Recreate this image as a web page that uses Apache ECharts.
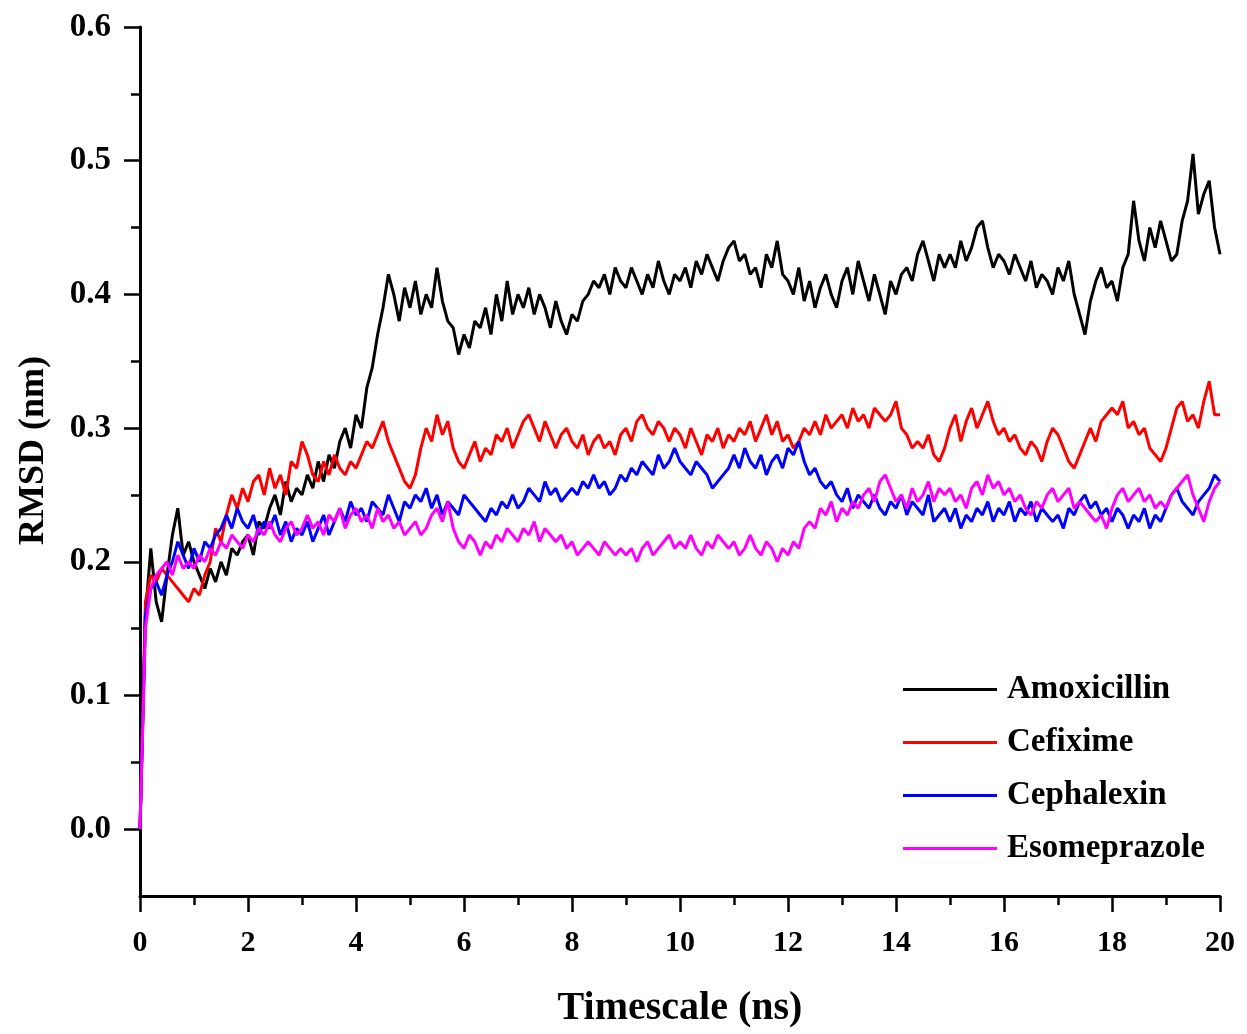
<!DOCTYPE html>
<html>
<head>
<meta charset="utf-8">
<script src="https://cdn.jsdelivr.net/npm/echarts@6/dist/echarts.min.js"></script>
<style>html,body{margin:0;padding:0;background:#fff;}#chart{width:1247px;height:1034px;}</style>
</head>
<body>
<div id="chart"></div>
<script>
// Time sampling step (ns) and tick values
const timeStep = 0.1;
const xTicks = [0, 2, 4, 6, 8, 10, 12, 14, 16, 18, 20];
const yTicks = [0.0, 0.1, 0.2, 0.3, 0.4, 0.5, 0.6];
const yMinorTicks = [0.05, 0.15, 0.25, 0.35, 0.45, 0.55];
const seriesNames = ['Amoxicillin', 'Cefixime', 'Cephalexin', 'Esomeprazole'];

// RMSD values (nm), one per 0.1 ns from 0 to 20 ns
const amoxicillin = [
0, 0.16, 0.21, 0.17, 0.155, 0.19, 0.22, 0.24, 0.205, 0.215,
0.20, 0.19, 0.18, 0.195, 0.185, 0.20, 0.19, 0.21, 0.205, 0.215,
0.22, 0.205, 0.23, 0.225, 0.24, 0.25, 0.235, 0.26, 0.245, 0.255,
0.25, 0.265, 0.255, 0.275, 0.26, 0.28, 0.27, 0.29, 0.30, 0.285,
0.31, 0.30, 0.33, 0.345, 0.37, 0.39, 0.415, 0.40, 0.38, 0.405,
0.39, 0.41, 0.385, 0.40, 0.39, 0.42, 0.395, 0.38, 0.375, 0.355,
0.37, 0.36, 0.38, 0.375, 0.39, 0.37, 0.40, 0.38, 0.41, 0.385,
0.40, 0.39, 0.405, 0.385, 0.40, 0.39, 0.375, 0.395, 0.38, 0.37,
0.385, 0.38, 0.395, 0.40, 0.41, 0.405, 0.415, 0.40, 0.42, 0.41,
0.405, 0.42, 0.41, 0.40, 0.415, 0.405, 0.425, 0.41, 0.40, 0.415,
0.41, 0.42, 0.405, 0.425, 0.415, 0.43, 0.42, 0.41, 0.425, 0.435,
0.44, 0.425, 0.43, 0.415, 0.42, 0.405, 0.43, 0.42, 0.44, 0.415,
0.41, 0.40, 0.42, 0.395, 0.41, 0.39, 0.405, 0.415, 0.40, 0.39,
0.41, 0.42, 0.40, 0.425, 0.41, 0.395, 0.415, 0.40, 0.385, 0.41,
0.40, 0.415, 0.42, 0.41, 0.43, 0.44, 0.425, 0.41, 0.43, 0.42,
0.43, 0.42, 0.44, 0.425, 0.435, 0.45, 0.455, 0.435, 0.42, 0.43,
0.425, 0.415, 0.43, 0.42, 0.41, 0.425, 0.405, 0.415, 0.41, 0.40,
0.42, 0.41, 0.425, 0.40, 0.385, 0.37, 0.395, 0.41, 0.42, 0.405,
0.41, 0.395, 0.42, 0.43, 0.47, 0.44, 0.425, 0.45, 0.435, 0.455,
0.44, 0.425, 0.43, 0.455, 0.47, 0.505, 0.46, 0.475, 0.485, 0.45,
0.43
];
const cefixime = [
0, 0.17, 0.19, 0.185, 0.195, 0.19, 0.185, 0.18, 0.175, 0.17,
0.18, 0.175, 0.19, 0.20, 0.225, 0.215, 0.235, 0.25, 0.24, 0.255,
0.245, 0.26, 0.265, 0.25, 0.27, 0.255, 0.265, 0.25, 0.275, 0.27,
0.29, 0.28, 0.265, 0.26, 0.275, 0.265, 0.28, 0.27, 0.265, 0.275,
0.27, 0.28, 0.29, 0.285, 0.295, 0.305, 0.29, 0.28, 0.27, 0.26,
0.255, 0.265, 0.285, 0.30, 0.29, 0.31, 0.295, 0.305, 0.285, 0.275,
0.27, 0.28, 0.29, 0.275, 0.285, 0.28, 0.295, 0.29, 0.30, 0.285,
0.295, 0.305, 0.31, 0.30, 0.29, 0.305, 0.295, 0.285, 0.295, 0.30,
0.29, 0.285, 0.295, 0.28, 0.29, 0.295, 0.285, 0.29, 0.28, 0.295,
0.30, 0.29, 0.305, 0.31, 0.30, 0.295, 0.305, 0.30, 0.29, 0.30,
0.295, 0.285, 0.30, 0.29, 0.28, 0.295, 0.29, 0.30, 0.285, 0.295,
0.29, 0.30, 0.295, 0.305, 0.29, 0.30, 0.31, 0.295, 0.305, 0.29,
0.295, 0.285, 0.29, 0.30, 0.295, 0.305, 0.295, 0.31, 0.30, 0.305,
0.31, 0.30, 0.315, 0.305, 0.31, 0.30, 0.315, 0.31, 0.305, 0.31,
0.32, 0.30, 0.295, 0.285, 0.29, 0.285, 0.295, 0.28, 0.275, 0.285,
0.30, 0.31, 0.29, 0.305, 0.315, 0.30, 0.31, 0.32, 0.305, 0.295,
0.30, 0.29, 0.295, 0.285, 0.28, 0.29, 0.285, 0.275, 0.29, 0.30,
0.295, 0.285, 0.275, 0.27, 0.28, 0.29, 0.30, 0.29, 0.305, 0.31,
0.315, 0.31, 0.32, 0.30, 0.305, 0.295, 0.30, 0.285, 0.28, 0.275,
0.285, 0.30, 0.315, 0.32, 0.305, 0.31, 0.30, 0.32, 0.335, 0.31,
0.31
];
const cephalexin = [
0, 0.16, 0.18, 0.185, 0.175, 0.19, 0.20, 0.215, 0.205, 0.195,
0.21, 0.20, 0.215, 0.21, 0.22, 0.225, 0.235, 0.225, 0.24, 0.23,
0.225, 0.235, 0.22, 0.23, 0.225, 0.235, 0.22, 0.23, 0.215, 0.225,
0.22, 0.23, 0.215, 0.225, 0.235, 0.22, 0.23, 0.24, 0.23, 0.245,
0.235, 0.24, 0.23, 0.245, 0.24, 0.235, 0.25, 0.24, 0.23, 0.245,
0.24, 0.25, 0.245, 0.255, 0.24, 0.25, 0.235, 0.245, 0.24, 0.235,
0.25, 0.245, 0.24, 0.235, 0.23, 0.24, 0.235, 0.245, 0.24, 0.25,
0.24, 0.245, 0.255, 0.25, 0.245, 0.26, 0.25, 0.255, 0.245, 0.25,
0.255, 0.25, 0.26, 0.255, 0.265, 0.255, 0.26, 0.25, 0.255, 0.265,
0.26, 0.27, 0.265, 0.275, 0.27, 0.265, 0.28, 0.27, 0.275, 0.285,
0.275, 0.27, 0.265, 0.275, 0.27, 0.265, 0.255, 0.26, 0.265, 0.27,
0.28, 0.27, 0.285, 0.275, 0.27, 0.28, 0.265, 0.275, 0.28, 0.27,
0.285, 0.28, 0.29, 0.275, 0.265, 0.27, 0.26, 0.255, 0.26, 0.25,
0.245, 0.255, 0.24, 0.25, 0.245, 0.24, 0.25, 0.24, 0.235, 0.245,
0.24, 0.25, 0.235, 0.245, 0.24, 0.235, 0.25, 0.23, 0.235, 0.24,
0.23, 0.24, 0.225, 0.235, 0.23, 0.24, 0.235, 0.245, 0.23, 0.24,
0.235, 0.245, 0.23, 0.24, 0.235, 0.245, 0.23, 0.24, 0.235, 0.23,
0.235, 0.225, 0.24, 0.235, 0.245, 0.25, 0.24, 0.245, 0.235, 0.24,
0.23, 0.24, 0.235, 0.225, 0.235, 0.23, 0.24, 0.225, 0.235, 0.23,
0.24, 0.25, 0.255, 0.245, 0.24, 0.235, 0.245, 0.25, 0.255, 0.265,
0.26
];
const esomeprazole = [
0, 0.15, 0.18, 0.19, 0.195, 0.20, 0.19, 0.205, 0.195, 0.20,
0.195, 0.205, 0.20, 0.21, 0.205, 0.215, 0.21, 0.22, 0.215, 0.21,
0.22, 0.215, 0.225, 0.22, 0.23, 0.22, 0.215, 0.225, 0.23, 0.22,
0.225, 0.235, 0.225, 0.23, 0.22, 0.235, 0.23, 0.24, 0.225, 0.235,
0.24, 0.23, 0.235, 0.225, 0.24, 0.23, 0.235, 0.225, 0.23, 0.22,
0.225, 0.23, 0.22, 0.225, 0.235, 0.24, 0.23, 0.245, 0.225, 0.215,
0.21, 0.22, 0.215, 0.205, 0.215, 0.21, 0.22, 0.215, 0.225, 0.22,
0.215, 0.225, 0.22, 0.23, 0.215, 0.225, 0.22, 0.215, 0.22, 0.21,
0.215, 0.205, 0.21, 0.215, 0.21, 0.205, 0.215, 0.21, 0.205, 0.21,
0.205, 0.21, 0.20, 0.21, 0.215, 0.205, 0.21, 0.215, 0.22, 0.21,
0.215, 0.21, 0.22, 0.21, 0.205, 0.215, 0.21, 0.22, 0.215, 0.21,
0.215, 0.205, 0.21, 0.22, 0.21, 0.205, 0.215, 0.21, 0.20, 0.21,
0.205, 0.215, 0.21, 0.225, 0.23, 0.225, 0.24, 0.235, 0.245, 0.23,
0.24, 0.235, 0.245, 0.24, 0.25, 0.255, 0.245, 0.26, 0.265, 0.255,
0.245, 0.25, 0.24, 0.255, 0.245, 0.25, 0.26, 0.245, 0.255, 0.25,
0.255, 0.245, 0.25, 0.24, 0.255, 0.26, 0.25, 0.265, 0.255, 0.26,
0.25, 0.255, 0.245, 0.25, 0.24, 0.235, 0.245, 0.24, 0.25, 0.255,
0.245, 0.25, 0.255, 0.24, 0.245, 0.24, 0.235, 0.23, 0.235, 0.225,
0.24, 0.25, 0.255, 0.245, 0.25, 0.255, 0.245, 0.25, 0.24, 0.245,
0.24, 0.25, 0.255, 0.26, 0.265, 0.25, 0.24, 0.23, 0.245, 0.255,
0.26
];

const seriesData = [amoxicillin, cefixime, cephalexin, esomeprazole];
const seriesColors = ['#000000', '#ff0000', '#0000ff', '#ff00ff'];

function toPairs(vals) {
  return vals.map((v, i) => [Math.round(i * timeStep * 10) / 10, v]);
}

const FONT = '"Liberation Serif", "Times New Roman", serif';
const chart = echarts.init(document.getElementById('chart'), null, { renderer: 'canvas' });

chart.setOption({
  animation: false,
  backgroundColor: '#ffffff',
  grid: { left: 140, right: 27, top: 27, bottom: 137, containLabel: false },
  legend: {
    orient: 'vertical',
    left: 903,
    top: 673,
    padding: 0,
    icon: 'rect',
    itemWidth: 94,
    itemHeight: 3,
    itemGap: 20,
    data: seriesNames,
    textStyle: { fontFamily: FONT, fontWeight: 'bold', fontSize: 33, color: '#000', padding: [0, 0, 0, 5] }
  },
  xAxis: {
    type: 'value',
    min: 0,
    max: 20,
    interval: 2,
    name: 'Timescale (ns)',
    nameLocation: 'middle',
    nameGap: 93,
    nameTextStyle: { fontFamily: FONT, fontWeight: 'bold', fontSize: 40, color: '#000' },
    axisLine: { show: true, onZero: false, lineStyle: { color: '#000', width: 3 } },
    axisTick: { show: true, length: 16, lineStyle: { color: '#000', width: 2.5 }, customValues: xTicks },
    minorTick: { show: true, splitNumber: 2, length: 9, lineStyle: { color: '#000', width: 2.5 } },
    axisLabel: { fontFamily: FONT, fontWeight: 'bold', fontSize: 30, color: '#000', margin: 32, customValues: xTicks },
    splitLine: { show: false }
  },
  yAxis: [{
    type: 'value',
    min: -0.05,
    max: 0.6,
    name: 'RMSD (nm)',
    nameLocation: 'middle',
    nameGap: 88,
    nameTextStyle: { fontFamily: FONT, fontWeight: 'bold', fontSize: 36, color: '#000', padding: [0, 0, 0, 22] },
    axisLine: { show: true, onZero: false, lineStyle: { color: '#000', width: 3 } },
    axisTick: { show: true, length: 16, lineStyle: { color: '#000', width: 2.5 }, customValues: yTicks },
    axisLabel: { fontFamily: FONT, fontWeight: 'bold', fontSize: 33, color: '#000', margin: 29,
      customValues: yTicks, formatter: v => Number(v).toFixed(1) },
    splitLine: { show: false }
  }, {
    type: 'value',
    min: -0.05,
    max: 0.6,
    position: 'left',
    axisLine: { show: false, onZero: false },
    axisTick: { show: true, length: 9, lineStyle: { color: '#000', width: 2.5 }, customValues: yMinorTicks },
    axisLabel: { show: false },
    splitLine: { show: false }
  }],
  series: seriesNames.map((name, k) => ({
    name: name,
    type: 'line',
    data: toPairs(seriesData[k]),
    showSymbol: false,
    symbol: 'none',
    color: seriesColors[k],
    lineStyle: { color: seriesColors[k], width: 3 },
    z: 2 + k
  }))
});
</script>
</body>
</html>
